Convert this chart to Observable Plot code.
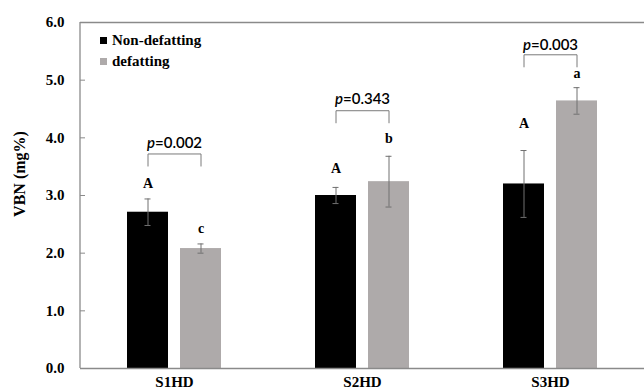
<!DOCTYPE html>
<html><head><meta charset="utf-8">
<script src="https://cdn.jsdelivr.net/npm/d3@7"></script>
<script src="https://cdn.jsdelivr.net/npm/@observablehq/plot@0.6"></script>
<style>
body{margin:0;background:#fff;}
#wrap{position:relative;width:644px;height:392px;font-family:"Liberation Serif",serif;}
.leg{position:absolute;left:100px;font:bold 15px "Liberation Serif",serif;color:#000;display:flex;align-items:center;white-space:nowrap;}
.sw{width:7px;height:7px;margin-right:5px;}
#ylab{position:absolute;left:20px;top:174px;transform:translate(-50%,-50%) rotate(-90deg);font:bold 16px "Liberation Serif",serif;white-space:nowrap;}
</style></head>
<body><div id="wrap"></div>
<script>
const categories = ["S1HD", "S2HD", "S3HD"];
const series = ["Non-defatting", "defatting"];
const colors = ["#000000", "#aeaaaa"];
const nonDefMean = [2.71, 3.00, 3.20];
const nonDefErr = [0.23, 0.14, 0.58];
const defMean = [2.08, 3.24, 4.64];
const defErr = [0.08, 0.44, 0.23];
const nonDefLetter = ["A", "A", "A"];
const defLetter = ["c", "b", "a"];
const nonDefLetterY = [3.20, 3.47, 4.25];
const defLetterY = [2.42, 3.99, 5.11];
const pValues = ["p=0.002", "p=0.343", "p=0.003"];
const pTextY = [3.90, 4.67, 5.60];
const bracketTop = [3.72, 4.47, 5.44];
const bracketLeg = [0.21, 0.21, 0.21];
const yTicks = [0, 1, 2, 3, 4, 5, 6];

const rows = [];
categories.forEach((c, i) => {
  rows.push({cat: c, series: series[0], mean: nonDefMean[i], err: nonDefErr[i], letter: nonDefLetter[i], ly: nonDefLetterY[i]});
  rows.push({cat: c, series: series[1], mean: defMean[i], err: defErr[i], letter: defLetter[i], ly: defLetterY[i]});
});
const bracketPts = [];
categories.forEach((c, i) => {
  const t = bracketTop[i], b = t - bracketLeg[i];
  bracketPts.push({cat: c, x: series[0], y: b}, {cat: c, x: series[0], y: t}, {cat: c, x: series[1], y: t}, {cat: c, x: series[1], y: b});
});
const pRows = categories.map((c, i) => ({cat: c, text: pValues[i], y: pTextY[i]}));

const axisColor = "#8a8a8a";
const serifBold = {fontFamily: "Liberation Serif", fontWeight: "bold", fontSize: 15};

const plot = Plot.plot({
  width: 644, height: 392,
  marginLeft: 80, marginTop: 22, marginBottom: 24, marginRight: 0,
  style: {background: "#fff", color: "#000"},
  fx: {domain: categories, padding: 0, label: null, axis: null},
  x: {domain: series, paddingInner: 0.222, paddingOuter: 0.856, axis: null},
  y: {domain: [0, 6], axis: null},
  color: {domain: series, range: colors},
  marks: [
    Plot.axisY({ticks: yTicks, tickFormat: d => d.toFixed(1), tickSize: -5, tickPadding: 21, stroke: axisColor, label: null, ...serifBold, facetAnchor: "left"}),
    Plot.axisFx({anchor: "bottom", tickSize: 0, tickPadding: 8, label: null, ...serifBold}),
    Plot.barY(rows, {fx: "cat", x: "series", y: "mean", fill: "series"}),
    Plot.ruleY([0, 6], {stroke: axisColor, strokeWidth: 1.3}),
    Plot.ruleX(rows, {fx: "cat", x: "series", y1: d => d.mean - d.err, y2: d => d.mean + d.err, stroke: "#707070"}),
    Plot.tickY(rows, {fx: "cat", x: "series", y: d => d.mean + d.err, insetLeft: 17.5, insetRight: 17.5, stroke: "#707070"}),
    Plot.tickY(rows, {fx: "cat", x: "series", y: d => d.mean - d.err, insetLeft: 17.5, insetRight: 17.5, stroke: "#707070"}),
    Plot.text(rows, {fx: "cat", x: "series", y: "ly", text: "letter", fill: "#000", fontFamily: "Liberation Serif", fontWeight: "bold", fontSize: 14}),
    Plot.line(bracketPts, {fx: "cat", x: "x", y: "y", z: "cat", stroke: "#7a7a7a", strokeWidth: 1}),
    Plot.text(pRows, {fx: "cat", y: "y", text: "text", fill: "#000", fontFamily: "Lato", fontWeight: 600, fontSize: 15})
  ]
});

// left axis line from the y scale
const ys = plot.scale("y");
d3.select(plot).append("line")
  .attr("x1", 80).attr("x2", 80)
  .attr("y1", ys.apply(0)).attr("y2", ys.apply(6))
  .attr("stroke", axisColor).attr("stroke-width", 1.3);

// italic p
d3.select(plot).selectAll("text").each(function() {
  const t = d3.select(this);
  const s = t.text();
  if (!pValues.includes(s)) return;
  t.text(null);
  t.append("tspan").attr("font-style", "italic").text(s[0]);
  t.append("tspan").text(s.slice(1));
});

const wrap = document.getElementById("wrap");
wrap.appendChild(plot);
series.forEach((s, i) => {
  const d = document.createElement("div");
  d.className = "leg";
  d.style.top = (32 + i * 21) + "px";
  d.innerHTML = `<span class="sw" style="background:${colors[i]}"></span>${s}`;
  wrap.appendChild(d);
});
const yl = document.createElement("div");
yl.id = "ylab";
yl.textContent = "VBN (mg%)";
wrap.appendChild(yl);
</script></body></html>
